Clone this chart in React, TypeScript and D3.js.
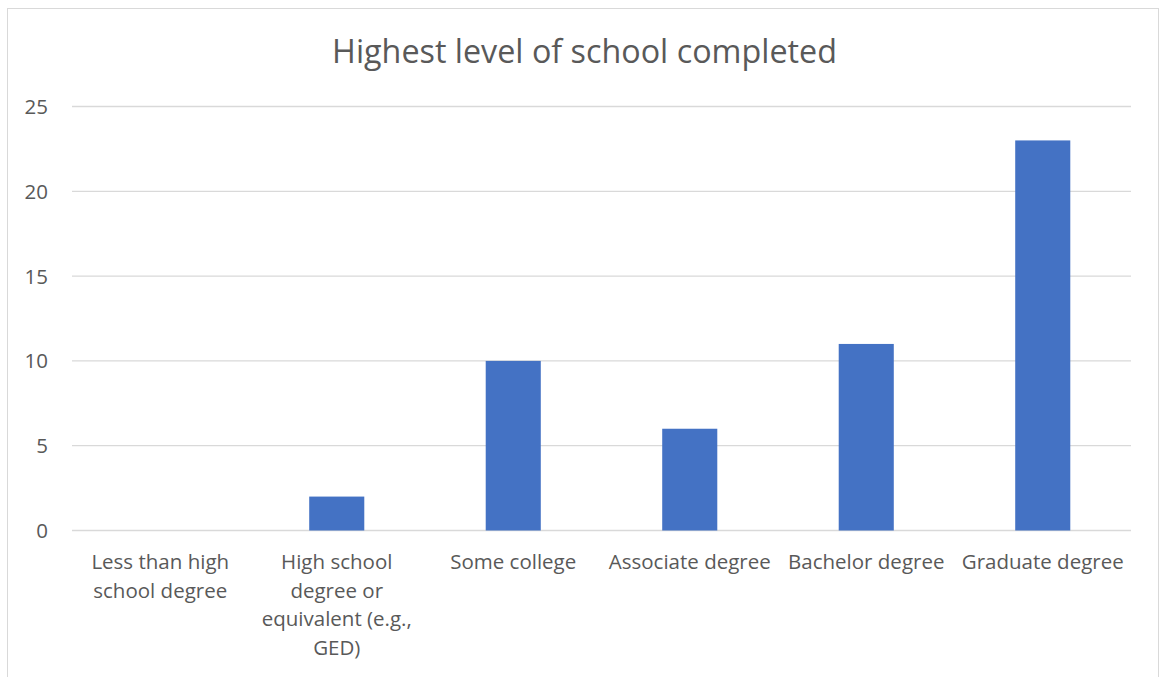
import React from "react";
import * as d3 from "d3";

const categories: string[][] = [
  ["Less than high", "school degree"],
  ["High school", "degree or", "equivalent (e.g.,", "GED)"],
  ["Some college"],
  ["Associate degree"],
  ["Bachelor degree"],
  ["Graduate degree"],
];
const values: number[] = [0, 2, 10, 6, 11, 23];
const yTicks: number[] = [0, 5, 10, 15, 20, 25];
const title = "Highest level of school completed";

const W = 1161;
const H = 677;
const FONT = "'Open Sans', sans-serif";

export default function App() {
  const plotLeft = 72;
  const plotRight = 1131;
  const yTop = 106.5;
  const yBottom = 530.5;
  const keys = categories.map((_, i) => String(i));
  const x = d3.scaleBand<string>().domain(keys).range([plotLeft, plotRight]).paddingInner(0.688).paddingOuter(0.344);
  const y = d3.scaleLinear().domain([0, 25]).range([yBottom, yTop]);
  const band = (plotRight - plotLeft) / categories.length;

  return (
    <svg width={W} height={H} style={{ position: "absolute", left: 0, top: 0, background: "#fff" }}>
      <rect x={7.5} y={8.5} width={1151} height={H + 10} fill="#fff" stroke="#d9d9d9" strokeWidth={1} />
      <text x={584.5} y={62.5} textAnchor="middle" fontFamily={FONT} fontSize={32.3} fill="#595959">
        {title}
      </text>
      {yTicks.map((t) => (
        <g key={t}>
          <line x1={plotLeft} x2={plotRight} y1={y(t)} y2={y(t)} stroke="#d9d9d9" strokeWidth={1.3} />
          <text x={48} y={y(t) + 7.5} textAnchor="end" fontFamily={FONT} fontSize={20.5} fill="#595959">
            {t}
          </text>
        </g>
      ))}
      {values.map((v, i) => (
        <rect key={i} x={x(String(i))} y={y(v)} width={x.bandwidth()} height={y(0) - y(v)} fill="#4472c4" />
      ))}
      {categories.map((lines, i) => (
        <text key={i} textAnchor="middle" fontFamily={FONT} fontSize={20.5} fill="#595959">
          {lines.map((l, j) => (
            <tspan key={j} x={plotLeft + band * (i + 0.5)} y={569 + j * 28.5}>
              {l}
            </tspan>
          ))}
        </text>
      ))}
    </svg>
  );
}
